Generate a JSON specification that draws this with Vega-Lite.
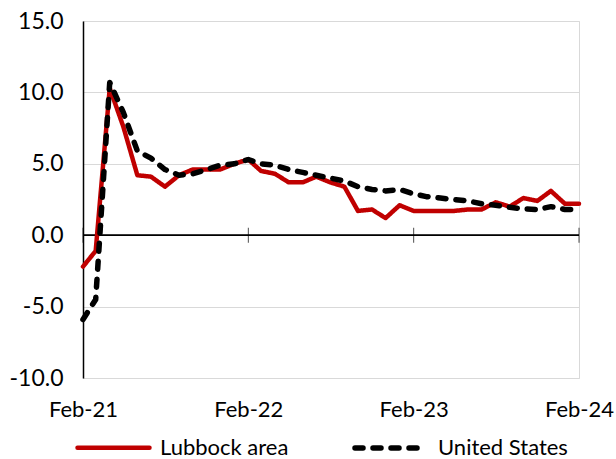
{
  "$schema": "https://vega.github.io/schema/vega-lite/v6.json",
  "width": 496,
  "height": 357,
  "autosize": {"type": "none"},
  "padding": {"left": 83, "top": 21, "right": 37, "bottom": 81},
  "background": "white",
  "config": {
    "view": {"stroke": "#d9d9d9", "strokeWidth": 1},
    "font": "Lato",
    "locale": {"number": {"decimal": ".", "thousands": ",", "grouping": [3], "currency": ["$", ""], "minus": "-"}}
  },
  "datasets": {
    "series": [
      {"date": "2021-02-01", "series": "Lubbock area", "value": -2.2},
      {"date": "2021-03-01", "series": "Lubbock area", "value": -1.1},
      {"date": "2021-04-01", "series": "Lubbock area", "value": 10.3},
      {"date": "2021-05-01", "series": "Lubbock area", "value": 7.6},
      {"date": "2021-06-01", "series": "Lubbock area", "value": 4.2},
      {"date": "2021-07-01", "series": "Lubbock area", "value": 4.1},
      {"date": "2021-08-01", "series": "Lubbock area", "value": 3.4},
      {"date": "2021-09-01", "series": "Lubbock area", "value": 4.2},
      {"date": "2021-10-01", "series": "Lubbock area", "value": 4.6},
      {"date": "2021-11-01", "series": "Lubbock area", "value": 4.6},
      {"date": "2021-12-01", "series": "Lubbock area", "value": 4.6},
      {"date": "2022-01-01", "series": "Lubbock area", "value": 5.0},
      {"date": "2022-02-01", "series": "Lubbock area", "value": 5.3},
      {"date": "2022-03-01", "series": "Lubbock area", "value": 4.5},
      {"date": "2022-04-01", "series": "Lubbock area", "value": 4.3},
      {"date": "2022-05-01", "series": "Lubbock area", "value": 3.7},
      {"date": "2022-06-01", "series": "Lubbock area", "value": 3.7},
      {"date": "2022-07-01", "series": "Lubbock area", "value": 4.1},
      {"date": "2022-08-01", "series": "Lubbock area", "value": 3.7},
      {"date": "2022-09-01", "series": "Lubbock area", "value": 3.4},
      {"date": "2022-10-01", "series": "Lubbock area", "value": 1.7},
      {"date": "2022-11-01", "series": "Lubbock area", "value": 1.8},
      {"date": "2022-12-01", "series": "Lubbock area", "value": 1.2},
      {"date": "2023-01-01", "series": "Lubbock area", "value": 2.1},
      {"date": "2023-02-01", "series": "Lubbock area", "value": 1.7},
      {"date": "2023-03-01", "series": "Lubbock area", "value": 1.7},
      {"date": "2023-04-01", "series": "Lubbock area", "value": 1.7},
      {"date": "2023-05-01", "series": "Lubbock area", "value": 1.7},
      {"date": "2023-06-01", "series": "Lubbock area", "value": 1.8},
      {"date": "2023-07-01", "series": "Lubbock area", "value": 1.8},
      {"date": "2023-08-01", "series": "Lubbock area", "value": 2.3},
      {"date": "2023-09-01", "series": "Lubbock area", "value": 2.0},
      {"date": "2023-10-01", "series": "Lubbock area", "value": 2.6},
      {"date": "2023-11-01", "series": "Lubbock area", "value": 2.4},
      {"date": "2023-12-01", "series": "Lubbock area", "value": 3.1},
      {"date": "2024-01-01", "series": "Lubbock area", "value": 2.2},
      {"date": "2024-02-01", "series": "Lubbock area", "value": 2.2},
      {"date": "2021-02-01", "series": "United States", "value": -5.9},
      {"date": "2021-03-01", "series": "United States", "value": -4.5},
      {"date": "2021-04-01", "series": "United States", "value": 10.7},
      {"date": "2021-05-01", "series": "United States", "value": 8.6},
      {"date": "2021-06-01", "series": "United States", "value": 5.9},
      {"date": "2021-07-01", "series": "United States", "value": 5.4},
      {"date": "2021-08-01", "series": "United States", "value": 4.6},
      {"date": "2021-09-01", "series": "United States", "value": 4.2},
      {"date": "2021-10-01", "series": "United States", "value": 4.3},
      {"date": "2021-11-01", "series": "United States", "value": 4.6},
      {"date": "2021-12-01", "series": "United States", "value": 4.9},
      {"date": "2022-01-01", "series": "United States", "value": 5.0},
      {"date": "2022-02-01", "series": "United States", "value": 5.3},
      {"date": "2022-03-01", "series": "United States", "value": 5.0},
      {"date": "2022-04-01", "series": "United States", "value": 4.9},
      {"date": "2022-05-01", "series": "United States", "value": 4.6},
      {"date": "2022-06-01", "series": "United States", "value": 4.4},
      {"date": "2022-07-01", "series": "United States", "value": 4.2},
      {"date": "2022-08-01", "series": "United States", "value": 4.0},
      {"date": "2022-09-01", "series": "United States", "value": 3.8},
      {"date": "2022-10-01", "series": "United States", "value": 3.4},
      {"date": "2022-11-01", "series": "United States", "value": 3.2},
      {"date": "2022-12-01", "series": "United States", "value": 3.1},
      {"date": "2023-01-01", "series": "United States", "value": 3.2},
      {"date": "2023-02-01", "series": "United States", "value": 2.9},
      {"date": "2023-03-01", "series": "United States", "value": 2.7},
      {"date": "2023-04-01", "series": "United States", "value": 2.6},
      {"date": "2023-05-01", "series": "United States", "value": 2.5},
      {"date": "2023-06-01", "series": "United States", "value": 2.4},
      {"date": "2023-07-01", "series": "United States", "value": 2.2},
      {"date": "2023-08-01", "series": "United States", "value": 2.1},
      {"date": "2023-09-01", "series": "United States", "value": 1.95},
      {"date": "2023-10-01", "series": "United States", "value": 1.85},
      {"date": "2023-11-01", "series": "United States", "value": 1.8},
      {"date": "2023-12-01", "series": "United States", "value": 2.0},
      {"date": "2024-01-01", "series": "United States", "value": 1.8},
      {"date": "2024-02-01", "series": "United States", "value": 1.8}
    ],
    "ticks": [
      {"date": "2021-02-01"},
      {"date": "2022-02-01"},
      {"date": "2023-02-01"},
      {"date": "2024-02-01"}
    ]
  },
  "layer": [
    {
      "data": {"name": "ticks"},
      "mark": {"type": "rule", "color": "black", "strokeWidth": 1},
      "encoding": {"y": {"datum": 0, "type": "quantitative"}}
    },
    {
      "data": {"name": "ticks"},
      "mark": {"type": "tick", "orient": "vertical", "color": "black", "size": 15, "thickness": 1},
      "encoding": {
        "x": {"field": "date", "type": "temporal", "timeUnit": "utcyearmonth", "bandPosition": 0},
        "y": {"datum": 0, "type": "quantitative"}
      }
    },
    {
      "data": {"name": "series"},
      "mark": {"type": "line", "strokeCap": "round", "strokeJoin": "round"},
      "encoding": {
        "x": {
          "field": "date",
          "type": "temporal",
          "timeUnit": "utcyearmonth",
          "scale": {"domain": [{"year": 2021, "month": 2, "date": 1, "utc": true}, {"year": 2024, "month": 2, "date": 1, "utc": true}]},
          "axis": {
            "title": null,
            "format": "%b-%y",
            "values": [
              {"year": 2021, "month": 2, "date": 1, "utc": true},
              {"year": 2022, "month": 2, "date": 1, "utc": true},
              {"year": 2023, "month": 2, "date": 1, "utc": true},
              {"year": 2024, "month": 2, "date": 1, "utc": true}
            ],
            "domain": false,
            "ticks": false,
            "grid": false,
            "labelFont": "Lato",
            "labelFontSize": 22,
            "labelColor": "#000000",
            "labelPadding": 21,
            "labelFlush": false,
            "labelOverlap": false
          }
        },
        "y": {
          "field": "value",
          "type": "quantitative",
          "scale": {"domain": [-10, 15], "nice": false, "zero": false},
          "axis": {
            "title": null,
            "values": [-10, -5, 0, 5, 10, 15],
            "format": ".1f",
            "domain": true,
            "domainColor": "#000000",
            "domainWidth": 1.5,
            "ticks": false,
            "grid": true,
            "gridColor": "#d9d9d9",
            "gridWidth": 1,
            "labelFont": "Lato",
            "labelFontSize": 23,
            "labelColor": "#000000",
            "labelPadding": 20
          }
        },
        "color": {
          "field": "series",
          "type": "nominal",
          "scale": {"domain": ["Lubbock area", "United States"], "range": ["#C00000", "#000000"]},
          "legend": {
            "title": null,
            "orient": "none",
            "direction": "horizontal",
            "legendX": -8,
            "legendY": 388,
            "symbolType": "stroke",
            "symbolSize": 5184,
            "symbolStrokeWidth": 5,
            "labelFont": "Lato",
            "labelFontSize": 22,
            "labelColor": "#000000",
            "labelOffset": 8,
            "columnPadding": 55,
            "encode": {"symbols": {"update": {"strokeCap": {"value": "round"}, "strokeWidth": {"value": 5}}}}
          }
        },
        "strokeDash": {
          "field": "series",
          "type": "nominal",
          "scale": {"domain": ["Lubbock area", "United States"], "range": [[1, 0], [8, 10]]},
          "legend": null
        },
        "strokeWidth": {
          "field": "series",
          "type": "nominal",
          "scale": {"domain": ["Lubbock area", "United States"], "range": [4.5, 5.5]},
          "legend": null
        }
      }
    }
  ]
}
